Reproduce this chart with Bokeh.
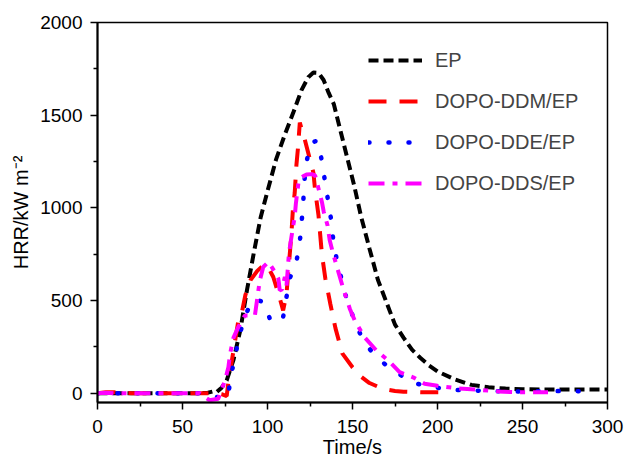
from bokeh.plotting import figure
from bokeh.embed import file_html
from bokeh.resources import INLINE
from bokeh.models import Range1d, FixedTicker

# ---- data ----
ep_t = [0, 5, 10, 15, 20, 25, 30, 35, 40, 45, 50, 55, 60, 65, 68, 70, 73, 76, 80, 84, 88, 92, 96, 100,
        105, 110, 115, 120, 124, 127, 130, 133, 136, 139, 142, 145, 148, 151, 155, 160, 165, 170, 175,
        180, 185, 190, 195, 200, 210, 220, 230, 240, 250, 260, 270, 280, 290, 300]
ep_hrr = [0, 0, 0, 0, 0, 0, 0, 0, 0, 0, 0, 0, 0, 3, 10, 5, 30, 69, 180, 340, 560, 760, 950, 1090,
          1260, 1390, 1510, 1635, 1705, 1730, 1728, 1690, 1620, 1560, 1450, 1340, 1230, 1120, 955, 780,
          610, 490, 370, 300, 235, 190, 150, 118, 75, 45, 32, 25, 22, 20, 20, 20, 20, 20]

ddm_t = [0, 5, 10, 15, 20, 25, 30, 35, 40, 45, 50, 55, 60, 65, 70, 73, 76, 77, 80, 83, 85, 87, 90,
         94, 97, 99.5, 103.4, 107, 109.2, 111.2, 113, 114, 115, 116, 117, 118, 119, 122, 125, 127, 128,
         130, 132, 134, 137, 140, 144, 150, 155, 160, 165, 170, 175, 180, 190, 200, 208]
ddm_hrr = [0, 5, 5, 3, 0, 0, 0, 0, 0, 0, 0, 0, 0, 0, 0, -5, -15, 60, 230, 400, 440, 530, 610,
           660, 685, 695, 627, 519, 447, 537, 740, 850, 1000, 1080, 1230, 1330, 1460, 1366, 1260, 1190,
           1096, 960, 750, 620, 480, 350, 215, 140, 90, 55, 35, 20, 12, 8, 5, 5, 5]

dde_t = [0, 5, 10, 15, 20, 25, 30, 35, 40, 45, 50, 55, 60, 65, 70, 74, 77, 78, 81, 83, 86, 88, 91,
         95, 98, 102, 105, 109, 111, 113, 117, 119, 120, 121, 121.6, 122.6, 125, 128, 130, 132, 133.7,
         135.6, 137.3, 138.6, 140.6, 143.5, 146.5, 150.4, 155.3, 160, 164, 170, 176, 181, 187, 193,
         198, 204, 209, 215, 221, 232, 243, 254, 266, 278, 289]
dde_hrr = [0, 0, 0, 0, 0, 0, 0, 0, 0, 0, 0, 0, 0, -5, -20, -25, -20, 80, 195, 300, 390, 440, 505,
           500, 490, 385, 390, 400, 510, 618, 708, 816, 916, 1024, 1132, 1230, 1338, 1360, 1357, 1249,
           1150, 1041, 943, 834, 726, 618, 510, 411, 303, 240, 195, 150, 114, 80, 54, 40, 32, 24, 18,
           16, 15, 11, 10, 10, 11, 12, 9]

dds_t = [0, 5, 10, 15, 20, 25, 30, 35, 40, 45, 50, 55, 60, 63, 66, 71, 73, 75, 77, 78, 80, 82.8, 86.7,
         92.6, 94.5, 95.5, 97.5, 100.5, 104.4, 106.4, 107.2, 108.5, 110.2, 111.2, 112.6, 113.5, 115,
         116, 116.7, 118.4, 121, 123, 126, 128, 130, 132, 133.1, 135.3, 136.6, 138.6, 142, 144, 148.4,
         151.3, 157, 164, 171, 177.7, 185.6, 192.4, 200, 211, 225, 236, 246, 257, 265]
dds_hrr = [0, 3, 0, 0, 0, 0, 0, 0, 0, 0, 0, 0, 0, -20, -38, -30, 20, 69, 140, 213, 300, 357, 420,
           420, 546, 609, 681, 708, 654, 618, 555, 560, 627, 580, 753, 808, 897,
           951, 1024, 1150, 1170, 1180, 1182, 1175, 1105, 1032, 978, 906, 825, 753, 645, 582, 456,
           393, 303, 231, 177, 114, 86, 51, 40, 27, 18, 10, 5, 5, 5]

x_ticks = [0, 50, 100, 150, 200, 250, 300]
y_ticks = [0, 500, 1000, 1500, 2000]

FONT = "Liberation Sans"

p = figure(width=625, height=462, output_backend="svg", toolbar_location=None,
           x_range=Range1d(0, 300), y_range=Range1d(-50, 2000),
           min_border_left=97, min_border_right=18, min_border_top=22, min_border_bottom=60)

p.xgrid.visible = False
p.ygrid.visible = False
p.outline_line_color = "black"
p.outline_line_width = 1.5
p.background_fill_color = "white"
p.border_fill_color = "white"

p.line(ep_t, ep_hrr, color="black", line_width=4, line_dash="10 5", legend_label="EP")
p.line(ddm_t, ddm_hrr, color="#ff0000", line_width=4, line_dash="18 13", legend_label="DOPO-DDM/EP")
p.line(dde_t, dde_hrr, color="#0000ff", line_width=4.5, line_dash="1 19", line_cap="round",
       legend_label="DOPO-DDE/EP")
p.line(dds_t, dds_hrr, color="#ff00ff", line_width=4, line_dash="16 8 5 8", legend_label="DOPO-DDS/EP")

for ax, ticks in ((p.xaxis[0], x_ticks), (p.yaxis[0], y_ticks)):
    ax.ticker = FixedTicker(ticks=ticks, minor_ticks=[t + (ticks[1] - ticks[0]) / 2 for t in ticks[:-1]])
    ax.axis_line_width = 2
    ax.major_tick_line_width = 1.5
    ax.minor_tick_line_width = 1.5
    ax.major_tick_out = 7
    ax.major_tick_in = 0
    ax.minor_tick_out = 4
    ax.minor_tick_in = 0
    ax.major_label_text_font = FONT
    ax.major_label_text_font_size = "19px"
    ax.major_label_text_color = "black"
    ax.axis_label_text_font = FONT
    ax.axis_label_text_font_size = "20px"
    ax.axis_label_text_font_style = "normal"
    ax.axis_label_text_color = "black"

p.xaxis.axis_label = "Time/s"
p.yaxis.axis_label = "HRR/kW m\u207b\u00b2"
p.xaxis.major_label_standoff = 10
p.yaxis.major_label_standoff = 8
p.xaxis.axis_label_standoff = 0
p.yaxis.axis_label_standoff = 5

lg = p.legend[0]
lg.location = (271, 204)
lg.border_line_color = None
lg.background_fill_alpha = 0
lg.padding = 0
lg.margin = 0
lg.spacing = 11
lg.glyph_width = 54
lg.glyph_height = 30
lg.label_height = 30
lg.label_standoff = 13
lg.label_text_font = FONT
lg.label_text_font_size = "20px"

open("out.html", "w").write(file_html(p, INLINE))
